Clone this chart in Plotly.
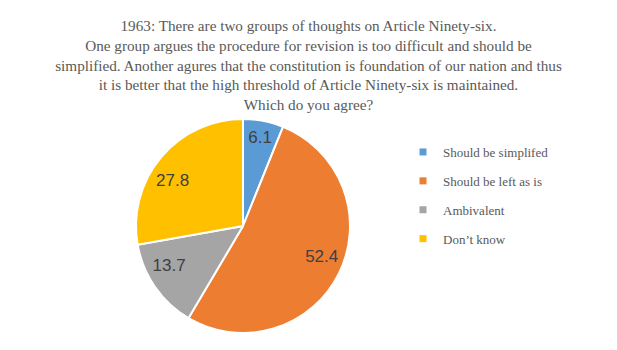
import plotly.graph_objects as go

categories = ["Should be simplifed", "Should be left as is", "Ambivalent", "Don\u2019t know"]
values = [6.1, 52.4, 13.7, 27.8]
colors = ["#5B9BD5", "#ED7D31", "#A5A5A5", "#FFC000"]

title_text = ("1963: There are two groups of thoughts on Article Ninety-six.<br>"
              "One group argues the procedure for revision is too difficult and should be<br>"
              "simplified. Another agures that the constitution is foundation of our nation and thus<br>"
              "it is better that the high threshold of Article Ninety-six is maintained.<br>"
              "Which do you agree?")

W, H = 617, 350
cx, cy, r = 243, 226, 107
r_lab = 64  # radius of transparent helper pie whose outside labels sit inside the main pie

label_font = dict(family="Liberation Sans", size=17, color="#404040")


def dom(rad):
    return dict(x=[(cx - rad) / W, (cx + rad) / W], y=[(H - cy - rad) / H, (H - cy + rad) / H])


fig = go.Figure()
fig.add_trace(go.Pie(
    labels=categories, values=values, sort=False, direction="clockwise", rotation=0,
    marker=dict(colors=colors, line=dict(color="white", width=2)),
    textinfo="value", textposition=["inside", "none", "none", "none"],
    insidetextorientation="horizontal", insidetextfont=label_font,
    showlegend=False, domain=dom(r),
))
fig.add_trace(go.Pie(
    labels=categories, values=values, sort=False, direction="clockwise", rotation=0,
    marker=dict(colors=["rgba(0,0,0,0)"] * len(values), line=dict(width=0)),
    textinfo="value", textposition=["none", "outside", "outside", "outside"], hoverinfo="skip",
    outsidetextfont=label_font,
    showlegend=False, domain=dom(r_lab),
))
for i, (c, col) in enumerate(zip(categories, colors)):
    fig.add_trace(go.Scatter(
        x=[None], y=[None], mode="markers", name=c, legendgroup=f"g{i}",
        marker=dict(symbol="square", size=7, color=col),
    ))

fig.update_layout(
    width=W, height=H, margin=dict(l=0, r=0, t=0, b=0),
    paper_bgcolor="white", plot_bgcolor="white",
    xaxis=dict(visible=False), yaxis=dict(visible=False),
    title=dict(text=title_text, x=0.5, xanchor="center", y=1 - 31 / H, yanchor="top",
               font=dict(family="Liberation Serif", size=15.2, color="#595959")),
    legend=dict(x=403 / W, xanchor="left", y=1 - 137 / H, yanchor="top",
                font=dict(family="Liberation Serif", size=13, color="#595959"),
                tracegroupgap=9, itemclick=False, bgcolor="rgba(0,0,0,0)"),
)
fig.write_html("out.html")
